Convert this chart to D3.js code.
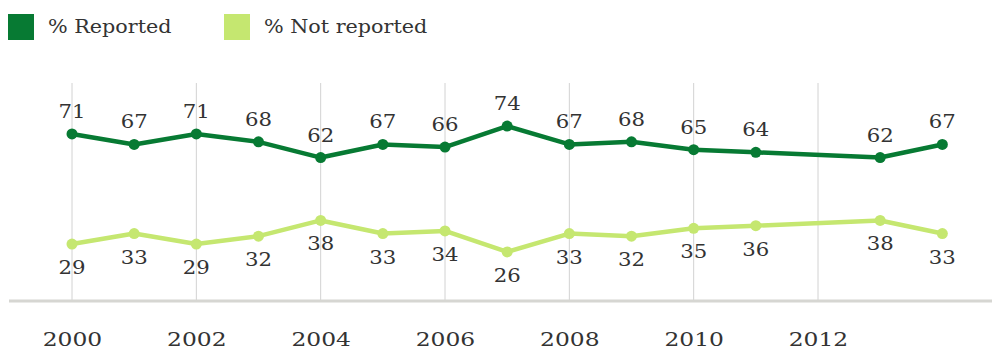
<!DOCTYPE html>
<html lang="en">
<head>
    <meta charset="UTF-8">
    <title>% Reported vs % Not reported</title>
    <script src="https://d3js.org/d3.v7.min.js"></script>
    <style>
        body {
            margin: 0;
            background: #fff;
            font-family: "DejaVu Serif", "Liberation Serif", serif;
        }
        .label {
            font-size: 18px;
            fill: #333;
        }
        .year {
            font-family: "DejaVu Serif", serif;
            font-size: 18px;
            fill: #333;
        }
        .legend-text {
            font-size: 19px;
            fill: #333;
        }
    </style>
</head>
<body>
    <div id="chart"></div>

    <script>
        // Data
        const years = [2000, 2001, 2002, 2003, 2004, 2005, 2006, 2007, 2008, 2009, 2010, 2011, 2013, 2014];
        const reported = [71, 67, 71, 68, 62, 67, 66, 74, 67, 68, 65, 64, 62, 67];
        const notReported = [29, 33, 29, 32, 38, 33, 34, 26, 33, 32, 35, 36, 38, 33];
        const tickYears = [2000, 2002, 2004, 2006, 2008, 2010, 2012];

        const width = 992, height = 350;
        const darkGreen = "#077a33", lightGreen = "#c5e770";

        const svg = d3.select("#chart")
                      .append("svg")
                      .attr("width", width)
                      .attr("height", height);

        // Scales
        const x = d3.scaleLinear().domain([2000, 2012]).range([72, 818]);
        const y = d3.scaleLinear().domain([0, 100]).range([320, 58]);
        const baseY = 301;

        // Vertical grid lines at even years
        svg.append("g")
           .selectAll("line")
           .data(tickYears)
           .join("line")
           .attr("x1", d => x(d)).attr("x2", d => x(d))
           .attr("y1", 83).attr("y2", baseY)
           .attr("stroke", "#d2d2d2")
           .attr("stroke-width", 1);

        // Baseline
        svg.append("line")
           .attr("x1", 9).attr("x2", width)
           .attr("y1", baseY).attr("y2", baseY)
           .attr("stroke", "#d6d6d2")
           .attr("stroke-width", 3);

        // X axis labels (the original type is set wide, so stretch horizontally)
        const xAxis = d3.axisBottom(x)
                        .tickValues(tickYears)
                        .tickFormat(d3.format("d"))
                        .tickSize(0)
                        .tickPadding(0);
        const gx = svg.append("g")
                      .attr("transform", `translate(0,${baseY})`)
                      .call(xAxis);
        gx.select(".domain").remove();
        gx.attr("font-size", null).attr("font-family", null);
        gx.selectAll("text")
          .attr("dy", null)
          .attr("y", 45)
          .attr("class", "year")
          .attr("fill", "#333")
          .attr("transform", "scale(1.3,1)");

        const line = d3.line()
                       .x(d => x(d.year))
                       .y(d => y(d.value));

        const series = [
            { name: "% Reported", values: reported, color: darkGreen, dy: -16 },
            { name: "% Not reported", values: notReported, color: lightGreen, dy: 30 }
        ];

        series.forEach(s => {
            const pts = years.map((yr, i) => ({ year: yr, value: s.values[i] }));

            svg.append("path")
               .datum(pts)
               .attr("fill", "none")
               .attr("stroke", s.color)
               .attr("stroke-width", 4.5)
               .attr("stroke-linejoin", "round")
               .attr("d", line);

            svg.append("g")
               .selectAll("circle")
               .data(pts)
               .join("circle")
               .attr("cx", d => x(d.year))
               .attr("cy", d => y(d.value))
               .attr("r", 5.5)
               .attr("fill", s.color);

            svg.append("g")
               .selectAll("text")
               .data(pts)
               .join("text")
               .attr("class", "label")
               .attr("transform", d => `translate(${x(d.year)},${y(d.value) + s.dy}) scale(1.18,1)`)
               .attr("text-anchor", "middle")
               .text(d => d.value);
        });

        // Legend
        const legend = svg.append("g");
        const legendX = [8, 224];
        series.forEach((s, i) => {
            legend.append("rect")
                  .attr("x", legendX[i]).attr("y", 14)
                  .attr("width", 26).attr("height", 26)
                  .attr("fill", s.color);
            legend.append("text")
                  .attr("class", "legend-text")
                  .attr("transform", `translate(${legendX[i] + 40},33) scale(1.09,1)`)
                  .text(s.name);
        });
    </script>
</body>
</html>
